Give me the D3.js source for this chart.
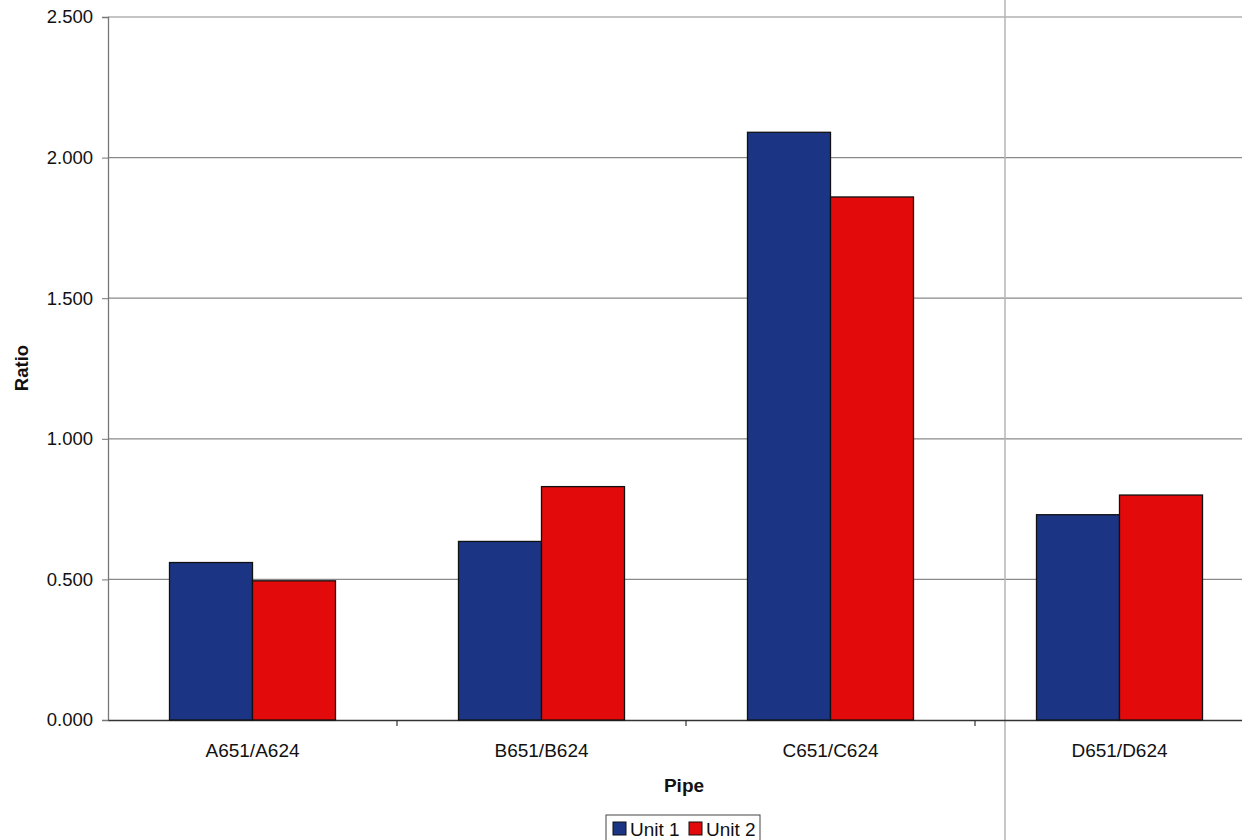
<!DOCTYPE html>
<html><head><meta charset="utf-8">
<script src="https://cdn.jsdelivr.net/npm/d3@7"></script>
<style>body{margin:0;background:#fff}svg{display:block}text{font-family:"Liberation Sans",Arial,sans-serif;fill:#111}</style>
</head><body><svg id="c" width="1242" height="840"></svg>
<script>
const categories = ["A651/A624","B651/B624","C651/C624","D651/D624"];
const seriesNames = ["Unit 1","Unit 2"];
const unit1 = [0.56, 0.635, 2.09, 0.73];
const unit2 = [0.495, 0.83, 1.86, 0.80];
const yTicks = [0, 0.5, 1.0, 1.5, 2.0, 2.5];
const colors = ["#1b3584","#e20a0a"];

(function(){
const svg = d3.select("#c");
const mLeft = 108, mTop = 17, mBottom = 720, band = 289;
const y = d3.scaleLinear().domain([0,2.5]).range([mBottom, mTop]);
const x = d3.scaleBand().domain(categories).range([mLeft, mLeft + band*categories.length]);
const groupW = 166;
const x1 = d3.scaleBand().domain(seriesNames).range([(x.bandwidth()-groupW)/2, (x.bandwidth()+groupW)/2]);

// gridlines
svg.append("g").selectAll("line").data(yTicks.filter(d=>d>0)).join("line")
  .attr("x1", mLeft).attr("x2", 1242).attr("y1", d=>y(d)).attr("y2", d=>y(d))
  .attr("stroke", "#8a8a8a").attr("stroke-width", 1.2);

// scan crease line
svg.append("line").attr("x1",1005).attr("x2",1005).attr("y1",0).attr("y2",840).attr("stroke","#b5b5b5").attr("stroke-width",1.5);

// y axis
const ya = svg.append("g").attr("transform",`translate(${mLeft},0)`)
  .call(d3.axisLeft(y).tickValues(yTicks).tickFormat(d3.format(".3f")).tickSize(6).tickPadding(9));
ya.select(".domain").attr("stroke","#777").attr("stroke-width",1.3);
ya.selectAll(".tick line").attr("stroke","#777");
ya.selectAll("text").style("font-size","18.5px").style("font-family","Liberation Sans, Arial, sans-serif").attr("fill","#111");

// x axis
const xa = svg.append("g").attr("transform",`translate(0,${mBottom})`)
  .call(d3.axisBottom(x).tickSize(0).tickPadding(24));
xa.select(".domain").attr("stroke","#333").attr("stroke-width",1.3);
xa.selectAll("text").style("font-size","19px").style("font-family","Liberation Sans, Arial, sans-serif").attr("fill","#111");
// boundary ticks
svg.append("g").selectAll("line").data(categories.slice(1)).join("line")
  .attr("x1", d=>x(d)).attr("x2", d=>x(d)).attr("y1", mBottom).attr("y2", mBottom+6)
  .attr("stroke","#333").attr("stroke-width",1.2);

// bars
const data = categories.map((c,i)=>({c, vals:[unit1[i], unit2[i]]}));
svg.append("g").selectAll("g").data(data).join("g")
  .attr("transform", d=>`translate(${x(d.c)},0)`)
  .selectAll("rect").data(d=>d.vals.map((v,j)=>({v, s:seriesNames[j], j}))).join("rect")
  .attr("x", d=>x1(d.s)).attr("width", x1.bandwidth())
  .attr("y", d=>y(d.v)).attr("height", d=>mBottom - y(d.v))
  .attr("fill", d=>colors[d.j]).attr("stroke","#111").attr("stroke-width",1.3);

// axis titles
svg.append("text").attr("transform","translate(28,368) rotate(-90)").attr("text-anchor","middle")
  .style("font-weight","bold").style("font-size","18.5px").text("Ratio");
svg.append("text").attr("x",684).attr("y",792).attr("text-anchor","middle")
  .style("font-weight","bold").style("font-size","19px").text("Pipe");

// legend
const lg = svg.append("g").attr("transform","translate(606,815)");
lg.append("rect").attr("x",0).attr("y",0).attr("width",154).attr("height",30).attr("fill","#fff").attr("stroke","#444").attr("stroke-width",1);
const items = lg.selectAll("g").data(seriesNames).join("g").attr("transform",(d,i)=>`translate(${7+i*76},0)`);
items.append("rect").attr("x",0).attr("y",7).attr("width",13).attr("height",13)
  .attr("fill",(d,i)=>colors[i]).attr("stroke","#111");
items.append("text").attr("x",17).attr("y",21).style("font-size","19px").text(d=>d);
})();
</script></body></html>
